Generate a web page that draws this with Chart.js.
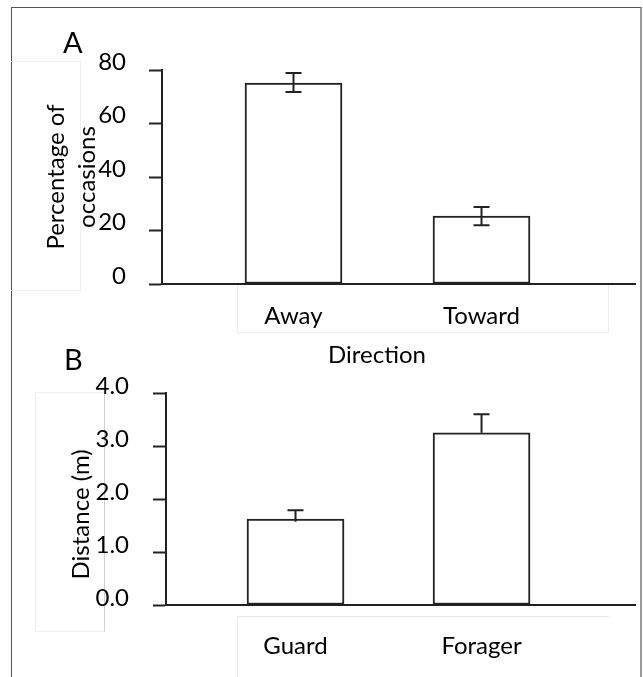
<!DOCTYPE html>
<html>
<head>
<meta charset="utf-8">
<script src="https://cdn.jsdelivr.net/npm/chart.js@4.4.0/dist/chart.umd.min.js"></script>
<style>
  body { margin: 0; background: #fff; width: 643px; height: 677px; position: relative; overflow: hidden; }
  canvas { position: absolute; left: 0; }
  #chartA { top: 0; }
  #chartB { top: 340px; }
  .box { position: absolute; box-sizing: border-box; }
</style>
</head>
<body>
<!-- page frame and the faint leftover boxes of the original figure -->
<div class="box" style="left:11px;top:7px;width:631px;height:680px;border-left:1px solid #555;border-top:1px solid #555;border-right:2px solid #999;"></div>
<div class="box" style="left:11px;top:61px;width:70px;height:230px;border:1px solid #f0f0f0;border-left:none;"></div>
<div class="box" style="left:237px;top:284px;width:372px;height:49px;border:1px solid #ececec;border-top:none;"></div>
<div class="box" style="left:35px;top:392px;width:70px;height:240px;border:1px solid #f2f2f2;border-right:1px solid #d0d0d0;"></div>
<div class="box" style="left:237px;top:616px;width:372px;height:70px;border-top:1px solid #e8e8e8;border-left:1px solid #ececec;"></div>

<canvas id="chartA" width="643" height="380"></canvas>
<canvas id="chartB" width="643" height="337"></canvas>

<script>
// Panel A: direction of movement
const directionLabels = ['Away', 'Toward'];
const directionPct = [75.1, 25.4];
const directionErrLow = [71.8, 22.0];
const directionErrHigh = [78.9, 28.8];
const pctTicks = [0, 20, 40, 60, 80];

// Panel B: distance by role
const roleLabels = ['Guard', 'Forager'];
const roleDistance = [1.62, 3.25];
const roleErrLow = [1.57, 3.25];
const roleErrHigh = [1.79, 3.60];
const distanceTicks = [0, 1, 2, 3, 4];

Chart.defaults.font.family = 'Lato, "Open Sans", sans-serif';
Chart.defaults.color = '#000';

const INK = '#222';

// error bars drawn on top of the bars, positions come from the chart scales
const errorBars = {
  id: 'errorBars',
  afterDatasetsDraw(chart, args, opts) {
    const { ctx, scales: { x, y } } = chart;
    ctx.save();
    ctx.strokeStyle = INK;
    ctx.lineWidth = 2;
    opts.high.forEach((hi, i) => {
      const px = x.getPixelForValue(i + 1);
      const yHi = y.getPixelForValue(hi);
      const yLo = y.getPixelForValue(opts.low[i]);
      ctx.beginPath();
      ctx.moveTo(px, yLo);
      ctx.lineTo(px, yHi);
      ctx.moveTo(px - 8, yHi);
      ctx.lineTo(px + 8, yHi);
      if (opts.lowCap) {
        ctx.moveTo(px - 8, yLo);
        ctx.lineTo(px + 8, yLo);
      }
      ctx.stroke();
    });
    ctx.restore();
  }
};

// big panel letter (A / B)
const panelLetter = {
  id: 'panelLetter',
  afterDraw(chart, args, opts) {
    const ctx = chart.ctx;
    ctx.save();
    ctx.font = '29px Lato, sans-serif';
    ctx.fillStyle = '#000';
    ctx.textBaseline = 'alphabetic';
    ctx.fillText(opts.text, opts.x, opts.y);
    ctx.restore();
  }
};

// Chart A
new Chart(document.getElementById('chartA'), {
  type: 'bar',
  data: {
    datasets: [{
      data: directionPct.map((v, i) => ({ x: i + 1, y: v })),
      backgroundColor: '#fff',
      borderColor: INK,
      borderWidth: 2,
      borderSkipped: false,
      barThickness: 97
    }]
  },
  options: {
    responsive: false,
    animation: false,
    layout: { padding: { top: 70, right: 8, left: 0, bottom: 0 } },
    plugins: {
      legend: { display: false },
      tooltip: { enabled: false },
      errorBars: { low: directionErrLow, high: directionErrHigh, lowCap: true },
      panelLetter: { text: 'A', x: 63, y: 53 }
    },
    scales: {
      x: {
        type: 'linear',
        offset: false,
        min: 0.3005,
        max: 2.8165,
        afterFit: s => { s.height = 96; },
        afterBuildTicks: s => { s.ticks = directionLabels.map((_, i) => ({ value: i + 1 })); },
        ticks: {
          callback: v => directionLabels[v - 1],
          font: { size: 24 },
          padding: 18,
          maxRotation: 0
        },
        grid: { display: false, drawTicks: false },
        border: { display: true, color: INK, width: 2 },
        title: {
          display: true,
          text: 'Direction       ',
          font: { size: 24 },
          padding: { top: 0, bottom: 10 }
        }
      },
      y: {
        min: 0,
        max: 80,
        afterFit: s => { s.width = 162; },
        afterBuildTicks: s => { s.ticks = pctTicks.map(v => ({ value: v })); },
        ticks: { font: { size: 24 }, padding: 23, labelOffset: -8 },
        grid: { drawOnChartArea: false, drawTicks: true, tickLength: 13, tickWidth: 2, tickColor: INK },
        border: { display: true, color: INK, width: 2 },
        title: {
          display: true,
          text: ['Percentage of', 'occasions'],
          font: { size: 24, lineHeight: 31 / 24 },
          padding: { top: 41, bottom: 0 }
        }
      }
    }
  },
  plugins: [errorBars, panelLetter]
});

// Chart B
new Chart(document.getElementById('chartB'), {
  type: 'bar',
  data: {
    datasets: [{
      data: roleDistance.map((v, i) => ({ x: i + 1, y: v })),
      backgroundColor: '#fff',
      borderColor: INK,
      borderWidth: 2,
      borderSkipped: false,
      barThickness: 97
    }]
  },
  options: {
    responsive: false,
    animation: false,
    layout: { padding: { top: 53, right: 8, left: 0, bottom: 0 } },
    plugins: {
      legend: { display: false },
      tooltip: { enabled: false },
      errorBars: { low: roleErrLow, high: roleErrHigh, lowCap: false },
      panelLetter: { text: 'B', x: 64, y: 30 }
    },
    scales: {
      x: {
        type: 'linear',
        offset: false,
        min: 0.3038,
        max: 2.825,
        afterFit: s => { s.height = 72; },
        afterBuildTicks: s => { s.ticks = roleLabels.map((_, i) => ({ value: i + 1 })); },
        ticks: {
          callback: v => roleLabels[v - 1],
          font: { size: 24 },
          padding: 27,
          maxRotation: 0
        },
        grid: { display: false, drawTicks: false },
        border: { display: true, color: INK, width: 2 }
      },
      y: {
        min: 0,
        max: 4,
        afterFit: s => { s.width = 166; },
        afterBuildTicks: s => { s.ticks = distanceTicks.map(v => ({ value: v })); },
        ticks: { font: { size: 24 }, padding: 24, labelOffset: -7, callback: v => v.toFixed(1) },
        grid: { drawOnChartArea: false, drawTicks: true, tickLength: 13, tickWidth: 2, tickColor: INK },
        border: { display: true, color: INK, width: 2 },
        title: {
          display: true,
          text: 'Distance (m)     ',
          font: { size: 24, lineHeight: 31 / 24 },
          padding: { top: 66, bottom: 0 }
        }
      }
    }
  },
  plugins: [errorBars, panelLetter]
});
</script>
</body>
</html>
